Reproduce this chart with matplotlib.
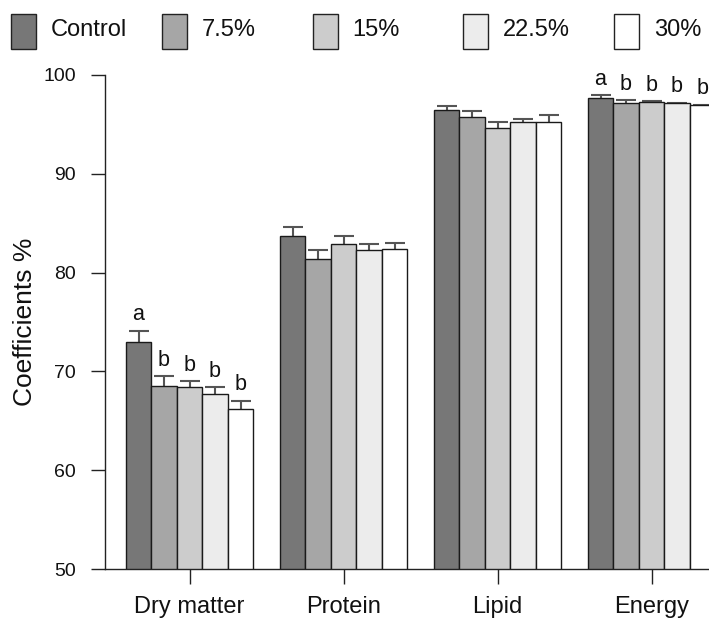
import matplotlib
matplotlib.use("Agg")
import matplotlib.pyplot as plt
from matplotlib.patches import Rectangle
import numpy as np

plt.rcParams['font.family'] = ['Liberation Sans', 'DejaVu Sans']

groups = ["Dry matter", "Protein", "Lipid", "Energy"]
treatments = ["Control", "7.5%", "15%", "22.5%", "30%"]
colors = ["#777777", "#a6a6a6", "#cccccc", "#ececec", "#ffffff"]

# values per treatment across groups (Dry matter, Protein, Lipid, Energy)
control = [73.0, 83.7, 96.4, 97.65]
t75 = [68.5, 81.4, 95.7, 97.1]
t15 = [68.4, 82.9, 94.6, 97.25]
t225 = [67.7, 82.3, 95.2, 97.1]
t30 = [66.2, 82.4, 95.2, 96.9]

err_control = [1.1, 0.9, 0.4, 0.25]
err_t75 = [1.0, 0.85, 0.6, 0.35]
err_t15 = [0.6, 0.8, 0.6, 0.05]
err_t225 = [0.7, 0.6, 0.3, 0.05]
err_t30 = [0.85, 0.55, 0.7, 0.05]

letters_control = ["a", "", "", "a"]
letters_t75 = ["b", "", "", "b"]
letters_t15 = ["b", "", "", "b"]
letters_t225 = ["b", "", "", "b"]
letters_t30 = ["b", "", "", "b"]

values = [control, t75, t15, t225, t30]
errors = [err_control, err_t75, err_t15, err_t225, err_t30]
letters = [letters_control, letters_t75, letters_t15, letters_t225, letters_t30]

W, H = 709, 618
fig = plt.figure(figsize=(W / 100, H / 100), dpi=100)

px_per_unit = 154.0
ax_left_px, ax_right_px = 105, 745
ax_bottom_px, ax_top_px = 569.3, 74.7
ax = fig.add_axes([ax_left_px / W, 1 - ax_bottom_px / H,
                   (ax_right_px - ax_left_px) / W, (ax_bottom_px - ax_top_px) / H])
x_left = -0.549
ax.set_xlim(x_left, x_left + (ax_right_px - ax_left_px) / px_per_unit)
ax.set_ylim(50, 100)

x = np.arange(len(groups))
bw = 25.5 / px_per_unit
for i, (vals, errs, labs, c) in enumerate(zip(values, errors, letters, colors)):
    pos = x + (i - 2) * bw
    ax.bar(pos, np.array(vals) - 50, bottom=50, width=bw, color=c,
           edgecolor="#1a1a1a", linewidth=1.0, zorder=3)
    ax.errorbar(pos, vals, yerr=errs, fmt="none", ecolor="#555555",
                elinewidth=1.5, capsize=7, capthick=1.5, zorder=2)
    for p, v, e, l in zip(pos, vals, errs, labs):
        if l:
            ax.annotate(l, (p, v + e), xytext=(0, 7.5), textcoords="offset points",
                        ha="center", va="baseline", fontsize=15.5, color="#111111")

ax.spines["top"].set_visible(False)
ax.spines["right"].set_visible(False)
ax.spines["left"].set_bounds(50, 100)
for s in ["left", "bottom"]:
    ax.spines[s].set_linewidth(1.0)
    ax.spines[s].set_color("#222222")

ax.set_yticks([50, 60, 70, 80, 90, 100])
ax.set_xticks(x)
ax.set_xticklabels(groups)
ax.tick_params(axis="y", direction="out", length=10, width=1.0, pad=11,
               labelsize=14, colors="#222222", labelcolor="#111111")
ax.tick_params(axis="x", direction="out", length=11, width=1.0, pad=8,
               labelsize=17, colors="#222222", labelcolor="#111111")

ax.set_ylabel("Coefficients %", fontsize=19, color="#111111")
ax.yaxis.set_label_coords((25 - ax_left_px) / (ax_right_px - ax_left_px), 0.5)
ax.yaxis.label.set_va("center")

# legend across the top
x0, step = 11, 150.75
for i, (name, c) in enumerate(zip(treatments, colors)):
    px = x0 + i * step
    fig.add_artist(Rectangle((px / W, 1 - 49 / H), 25 / W, 35 / H,
                             transform=fig.transFigure, facecolor=c,
                             edgecolor="#222222", linewidth=1.0))
    fig.text((px + 40) / W, 1 - 35.5 / H, name, fontsize=17,
             va="baseline", ha="left", color="#111111")

fig.savefig("out.png", dpi=100)
